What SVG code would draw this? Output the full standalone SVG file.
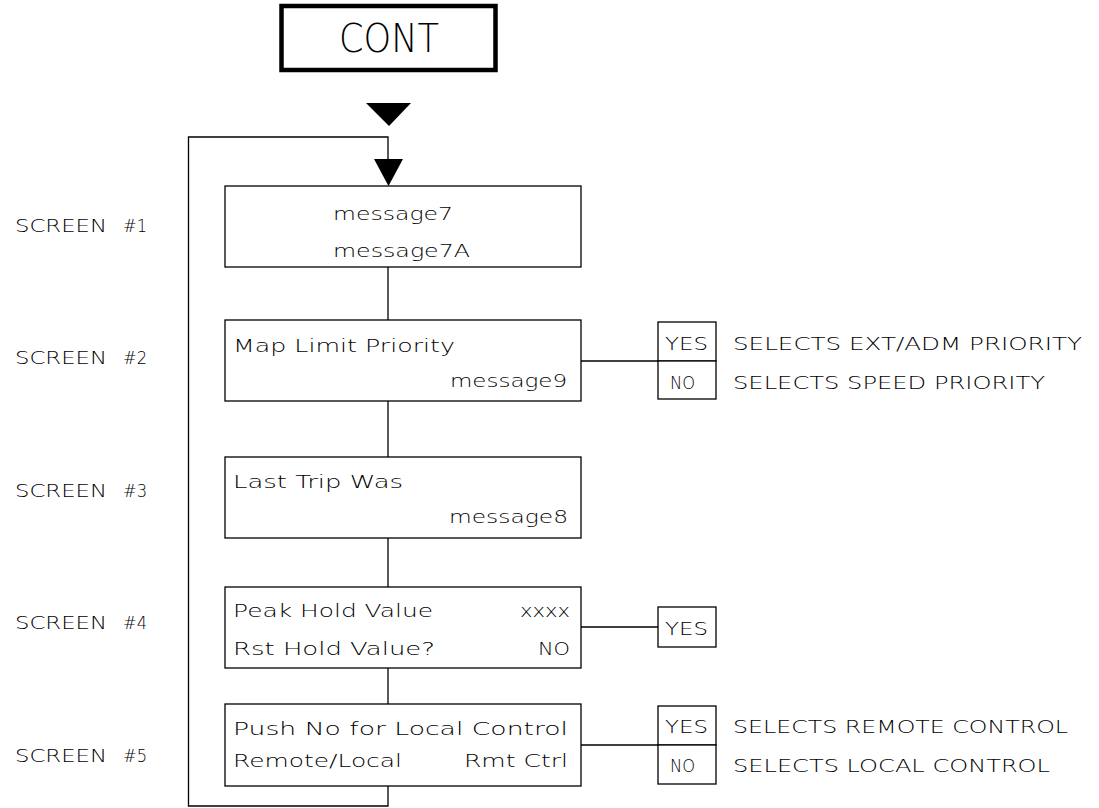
<svg xmlns="http://www.w3.org/2000/svg" width="1099" height="808" viewBox="0 0 1099 808">
<style>
text{font-family:"DejaVu Sans","Liberation Sans",sans-serif;font-weight:200;font-size:17px;fill:#000}
.box{fill:#fff;stroke:#000;stroke-width:1.3}
.ln{fill:none;stroke:#000;stroke-width:1.3}
.big{font-size:39px}
</style>
<rect width="1099" height="808" fill="#fff"/>
<g id="cont">
<rect x="281.5" y="6" width="214" height="64" fill="#fff" stroke="#000" stroke-width="4.5"/>
<text class="big" x="389" y="52" text-anchor="middle" textLength="100" lengthAdjust="spacingAndGlyphs">CONT</text>
</g>
<g id="connectors">
<polygon points="366,103 411,103 389,126" fill="#000"/>
<polyline class="ln" points="388,786 388,806 188.5,806 188.5,137 388,137 388,165"/>
<polygon points="374,159 403,159 388.5,186" fill="#000"/>
<line class="ln" x1="388" y1="267" x2="388" y2="320"/>
<line class="ln" x1="388" y1="401" x2="388" y2="457"/>
<line class="ln" x1="388" y1="538" x2="388" y2="587"/>
<line class="ln" x1="388" y1="668" x2="388" y2="704"/>
<line class="ln" x1="581" y1="361" x2="658" y2="361"/>
<line class="ln" x1="581" y1="627" x2="658" y2="627"/>
<line class="ln" x1="581" y1="745" x2="658" y2="745"/>
</g>
<g id="screen1">
<rect class="box" x="225" y="186" width="356" height="81"/>
<text x="333" y="220" textLength="120" lengthAdjust="spacingAndGlyphs">message7</text>
<text x="333" y="257" textLength="137" lengthAdjust="spacingAndGlyphs">message7A</text>
</g>
<g id="screen2">
<rect class="box" x="225" y="320" width="356" height="81"/>
<text x="233" y="352" textLength="222" lengthAdjust="spacingAndGlyphs">Map Limit Priority</text>
<text x="450" y="387" textLength="117" lengthAdjust="spacingAndGlyphs">message9</text>
</g>
<g id="screen2-options">
<rect class="box" x="658" y="322" width="58" height="39"/>
<rect class="box" x="658" y="361" width="58" height="38"/>
<text x="665" y="350" textLength="43" lengthAdjust="spacingAndGlyphs">YES</text>
<text x="670" y="389" textLength="25" lengthAdjust="spacingAndGlyphs">NO</text>
<text x="733" y="350" textLength="349" lengthAdjust="spacingAndGlyphs">SELECTS EXT/ADM PRIORITY</text>
<text x="733" y="389" textLength="312" lengthAdjust="spacingAndGlyphs">SELECTS SPEED PRIORITY</text>
</g>
<g id="screen3">
<rect class="box" x="225" y="457" width="356" height="81"/>
<text x="233" y="488" textLength="170" lengthAdjust="spacingAndGlyphs">Last Trip Was</text>
<text x="449" y="523" textLength="119" lengthAdjust="spacingAndGlyphs">message8</text>
</g>
<g id="screen4">
<rect class="box" x="225" y="587" width="356" height="81"/>
<text x="233" y="617" textLength="200" lengthAdjust="spacingAndGlyphs">Peak Hold Value</text>
<text x="520" y="617" textLength="50" lengthAdjust="spacingAndGlyphs">xxxx</text>
<text x="233" y="655" textLength="202" lengthAdjust="spacingAndGlyphs">Rst Hold Value?</text>
<text x="538" y="655" textLength="32" lengthAdjust="spacingAndGlyphs">NO</text>
</g>
<g id="screen4-options">
<rect class="box" x="658" y="607" width="58" height="40"/>
<text x="665" y="635" textLength="43" lengthAdjust="spacingAndGlyphs">YES</text>
</g>
<g id="screen5">
<rect class="box" x="225" y="704" width="356" height="82"/>
<text x="233" y="735" textLength="335" lengthAdjust="spacingAndGlyphs">Push No for Local Control</text>
<text x="233" y="767" textLength="169" lengthAdjust="spacingAndGlyphs">Remote/Local</text>
<text x="464" y="767" textLength="104" lengthAdjust="spacingAndGlyphs">Rmt Ctrl</text>
</g>
<g id="screen5-options">
<rect class="box" x="658" y="706" width="58" height="39"/>
<rect class="box" x="658" y="745" width="58" height="39"/>
<text x="665" y="733" textLength="43" lengthAdjust="spacingAndGlyphs">YES</text>
<text x="670" y="772" textLength="25" lengthAdjust="spacingAndGlyphs">NO</text>
<text x="733" y="733" textLength="335" lengthAdjust="spacingAndGlyphs">SELECTS REMOTE CONTROL</text>
<text x="733" y="772" textLength="317" lengthAdjust="spacingAndGlyphs">SELECTS LOCAL CONTROL</text>
</g>
<g id="labels">
<text y="232"><tspan x="15" textLength="92" lengthAdjust="spacingAndGlyphs">SCREEN</tspan><tspan x="123" textLength="24" lengthAdjust="spacingAndGlyphs">#1</tspan></text>
<text y="364"><tspan x="15" textLength="92" lengthAdjust="spacingAndGlyphs">SCREEN</tspan><tspan x="123" textLength="24" lengthAdjust="spacingAndGlyphs">#2</tspan></text>
<text y="497"><tspan x="15" textLength="92" lengthAdjust="spacingAndGlyphs">SCREEN</tspan><tspan x="123" textLength="24" lengthAdjust="spacingAndGlyphs">#3</tspan></text>
<text y="629"><tspan x="15" textLength="92" lengthAdjust="spacingAndGlyphs">SCREEN</tspan><tspan x="123" textLength="24" lengthAdjust="spacingAndGlyphs">#4</tspan></text>
<text y="762"><tspan x="15" textLength="92" lengthAdjust="spacingAndGlyphs">SCREEN</tspan><tspan x="123" textLength="24" lengthAdjust="spacingAndGlyphs">#5</tspan></text>
</g>
</svg>
